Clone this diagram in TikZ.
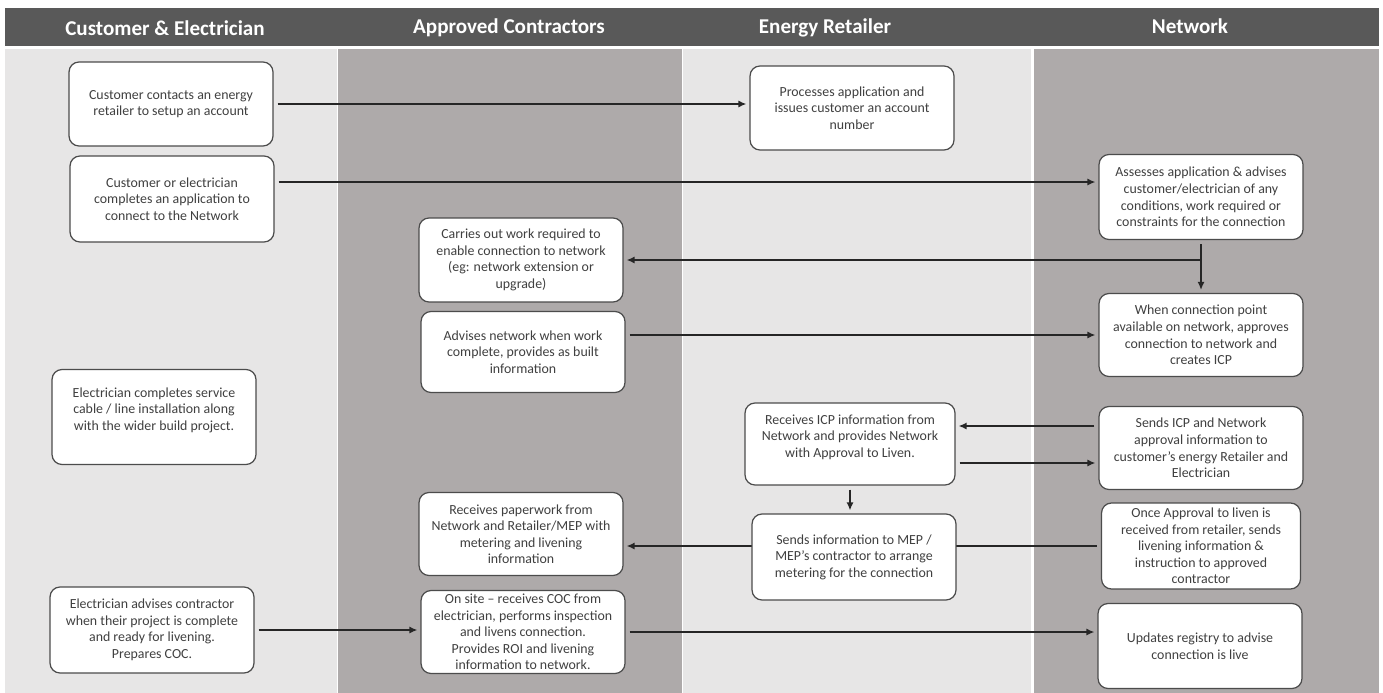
\documentclass[tikz,border=0pt]{standalone}
\usepackage{fontspec}
\setmainfont{Carlito}
\usetikzlibrary{arrows.meta}
\definecolor{headgray}{HTML}{595959}
\definecolor{lanelight}{HTML}{E7E6E6}
\definecolor{lanedark}{HTML}{AEAAAA}
\definecolor{boxtext}{HTML}{404040}
\tikzset{box/.style={draw=black!70, fill=white, rounded corners=0.2cm, line width=0.7pt, text=boxtext, align=center, minimum width=4.08cm, inner sep=1pt, font=\fontsize{7.9}{9.4}\selectfont}}
\tikzset{flow/.style={-{Latex[length=1.6mm,width=1.4mm]}, line width=0.8pt, draw=black!85, shorten <=0.08cm, shorten >=0.06cm}}
\newcommand{\lane}[3]{\fill[#3] (#1,49) rectangle (#2,693);}
\newcommand{\lanetitle}[3]{\node[text=white, font=\bfseries\fontsize{12}{14}\selectfont] (#1) at (#2) {#3};}
\pgfdeclarelayer{lanes}
\pgfdeclarelayer{lines}
\pgfsetlayers{lanes,lines,main}

\begin{document}
\begin{tikzpicture}[x=0.02cm, y=-0.02cm]
\useasboundingbox (0,0) rectangle (1383,693);
\begin{pgfonlayer}{lanes}
\fill[white] (0,0) rectangle (1383,693);
\fill[headgray] (5,8) rectangle (1379,46);
\lane{5}{337}{lanelight}
\lane{338}{682}{lanedark}
\lane{683}{1031}{lanelight}
\lane{1034}{1379}{lanedark}
\end{pgfonlayer}
\lanetitle{t1}{165,28}{Customer \& Electrician}
\lanetitle{t2}{509,28}{Approved Contractors}
\lanetitle{t3}{825,28}{Energy Retailer}
\lanetitle{t4}{1190,26}{Network}

\node[box, minimum height=1.68cm] (c1) at (171,104) {Customer contacts an energy\\retailer to setup an account};
\node[box, minimum height=1.72cm] (c2) at (172,199) {Customer or electrician\\completes an application to\\connect to the Network};
\node[box, minimum height=1.9cm] (c3) at (154,417) {Electrician completes service\\cable / line installation along\\with the wider build project.\\\mbox{}};
\node[box, minimum height=1.72cm] (c4) at (152,630) {Electrician advises contractor\\when their project is complete\\and ready for livening.\\Prepares COC.};

\node[box, minimum height=1.68cm] (a1) at (521,260) {Carries out work required to\\enable connection to network\\(eg: network extension or\\upgrade)};
\node[box, minimum height=1.62cm] (a2) at (523,352) {Advises network when work\\complete, provides as built\\information};
\node[box, minimum height=1.66cm] (a3) at (521,534) {Receives paperwork from\\Network and Retailer/MEP with\\metering and livening\\information};
\node[box, minimum height=1.66cm] (a4) at (523,632) {On site – receives COC from\\electrician, performs inspection\\and livens connection.\\Provides ROI and livening\\information to network.};

\node[box, minimum height=1.68cm] (r1) at (852,108) {Processes application and\\issues customer an account\\number};
\node[box, minimum height=1.64cm, minimum width=4.2cm] (r2) at (850,444) {Receives ICP information from\\Network and provides Network\\with Approval to Liven.\\\mbox{}};
\node[box, minimum height=1.72cm] (r3) at (854,557) {Sends information to MEP /\\MEP’s contractor to arrange\\metering for the connection};

\node[box, minimum height=1.7cm] (n1) at (1201,197) {Assesses application \& advises\\customer/electrician of any\\conditions, work required or\\constraints for the connection};
\node[box, minimum height=1.66cm] (n2) at (1201,335) {When connection point\\available on network, approves\\connection to network and\\creates ICP};
\node[box, minimum height=1.66cm] (n3) at (1201,448) {Sends ICP and Network\\approval information to\\customer’s energy Retailer and\\Electrician};
\node[box, minimum height=1.72cm, minimum width=3.98cm] (n4) at (1201,546) {Once Approval to liven is\\received from retailer, sends\\livening information \&\\instruction to approved\\contractor};
\node[box, minimum height=1.7cm] (n5) at (1200,646) {Updates registry to advise\\connection is live};

\begin{pgfonlayer}{lines}
\draw[flow] (c1.east) -- (c1.east -| r1.west);
\draw[flow] ([yshift=0.34cm]c2.east) -- ([yshift=0.34cm]c2.east -| n1.west);
\draw[flow] (n1.south) -- (n2.north);
\coordinate (split) at (n1.south |- a1.east);
\draw[flow, shorten <=0pt] (split) -- (a1.east);
\draw[flow] (a2.east |- n2.west) -- (n2.west);
\draw[flow] ([yshift=0.44cm]n3.west) -- ([yshift=0.44cm]n3.west -| r2.east);
\draw[flow] ([yshift=-0.38cm]r2.east) -- ([yshift=-0.38cm]r2.east -| n3.west);
\draw[flow] (r2.south) -- (r2.south |- r3.north);
\draw[flow] (n4.west) -- (n4.west -| a3.east);
\draw[flow] (c4.east) -- (c4.east -| a4.west);
\draw[flow] (a4.east) -- (a4.east -| n5.west);
\end{pgfonlayer}
\end{tikzpicture}
\end{document}
